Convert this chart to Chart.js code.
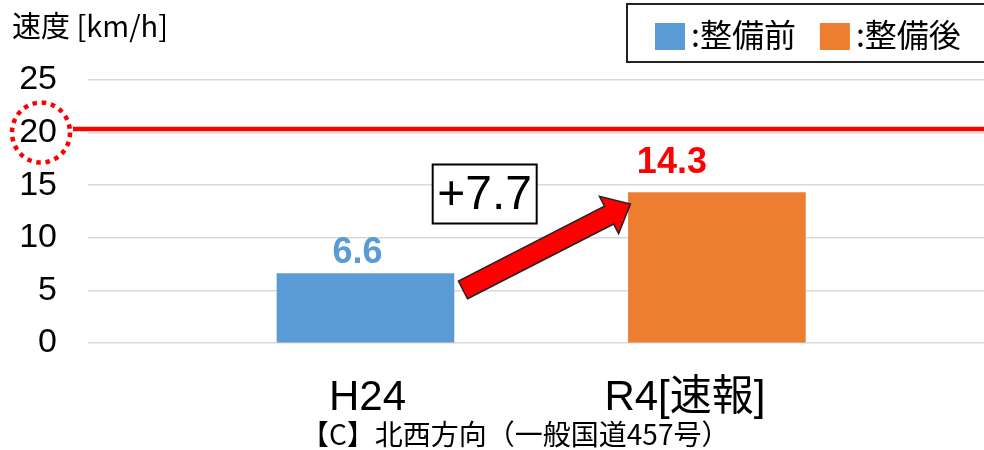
<!DOCTYPE html>
<html>
<head>
<meta charset="utf-8">
<script src="https://cdn.jsdelivr.net/npm/chart.js@4"></script>
<style>
html,body{margin:0;padding:0;background:#fff;}
#wrap{position:relative;width:984px;height:450px;}
</style>
</head>
<body>
<div id="wrap"><canvas id="c"></canvas></div>
<script>
// ---- data ----
const categories = ['H24', 'R4[速報]'];
const speeds = [6.6, 14.3];
const seriesNames = ['整備前', '整備後'];
const targetSpeed = 20;
const increaseLabel = '+7.7';
const yTitle = '速度 [km/h]';
const subtitle = '【C】北西方向（一般国道457号）';
const yMin = 0, yMax = 25, yStep = 5;

// ---- styles ----
const barColors = ['#5b9bd5', '#ed7d31'];
const labelColors = ['#5b9bd5', '#ff0000'];
const labelOffsets = [{dx: -8, dy: -11}, {dx: -45, dy: -20}];
const xLabelOffsets = [2, -32];
const LAT = '"Liberation Sans", Arial, "Noto Sans CJK JP", sans-serif';
const CJK = '"Noto Sans CJK JP", "Liberation Sans", sans-serif';

const overlay = {
  id: 'overlay',
  afterDatasetsDraw(chart) {
    const ctx = chart.ctx;
    const ca = chart.chartArea;
    const ys = chart.scales.y;
    const xs = chart.scales.x;
    const meta = chart.getDatasetMeta(0);
    ctx.save();

    // target line
    const ty = ys.getPixelForValue(targetSpeed) - 3.5;
    ctx.strokeStyle = '#ff0000';
    ctx.lineWidth = 4.5;
    ctx.beginPath();
    ctx.moveTo(ca.left - 15, ty);
    ctx.lineTo(chart.width, ty);
    ctx.stroke();

    // dotted circle around the 20 tick label
    const cy = ys.getPixelForValue(targetSpeed);
    ctx.lineWidth = 4.5;
    ctx.setLineDash([4.5, 4.8]);
    ctx.beginPath();
    ctx.ellipse(41, cy, 29, 30, 0, 0, Math.PI * 2);
    ctx.stroke();
    ctx.setLineDash([]);

    // value labels
    ctx.font = 'bold 36px ' + LAT;
    ctx.textAlign = 'center';
    ctx.textBaseline = 'alphabetic';
    meta.data.forEach((bar, i) => {
      ctx.fillStyle = labelColors[i];
      ctx.fillText(String(speeds[i]), bar.x + labelOffsets[i].dx, bar.y + labelOffsets[i].dy);
    });

    // arrow
    const b0 = meta.data[0], b1 = meta.data[1];
    const tail = {x: b0.x + b0.width / 2 + 9, y: ys.getPixelForValue(5.05)};
    const tip = {x: b1.x - b1.width / 2 + 2, y: ys.getPixelForValue(13.2)};
    const dx = tip.x - tail.x, dy = tip.y - tail.y;
    const len = Math.hypot(dx, dy);
    const ux = dx / len, uy = dy / len;
    const px = -uy, py = ux;
    const sw = 10, hw = 21, hl = 24;
    const bx = tip.x - ux * hl, by = tip.y - uy * hl;
    ctx.beginPath();
    ctx.moveTo(tail.x + px * sw, tail.y + py * sw);
    ctx.lineTo(bx + px * sw, by + py * sw);
    ctx.lineTo(bx + px * hw, by + py * hw);
    ctx.lineTo(tip.x, tip.y);
    ctx.lineTo(bx - px * hw, by - py * hw);
    ctx.lineTo(bx - px * sw, by - py * sw);
    ctx.lineTo(tail.x - px * sw, tail.y - py * sw);
    ctx.closePath();
    ctx.fillStyle = '#ff0000';
    ctx.fill();
    ctx.strokeStyle = '#222';
    ctx.lineWidth = 1.5;
    ctx.stroke();

    // increase box
    const mx = (tail.x + tip.x) / 2 - 62, my = (tail.y + tip.y) / 2 - 53;
    ctx.fillStyle = '#fff';
    ctx.fillRect(mx - 52, my - 29.5, 104, 59);
    ctx.strokeStyle = '#000';
    ctx.lineWidth = 2;
    ctx.strokeRect(mx - 52, my - 29.5, 104, 59);
    ctx.fillStyle = '#000';
    ctx.font = '48px ' + LAT;
    ctx.textAlign = 'center';
    ctx.textBaseline = 'middle';
    ctx.fillText(increaseLabel, mx, my + 2);

    // category labels
    ctx.font = '42px ' + LAT;
    ctx.textBaseline = 'alphabetic';
    categories.forEach((c, i) => {
      ctx.fillText(c, xs.getPixelForValue(i + 1) + xLabelOffsets[i], ca.bottom + 67);
    });

    // subtitle
    ctx.font = '28px ' + CJK;
    ctx.textBaseline = 'middle';
    ctx.fillText(subtitle, (xs.getPixelForValue(1) + xs.getPixelForValue(2)) / 2 - 26, ca.bottom + 91);

    // y-axis title
    ctx.textAlign = 'left';
    ctx.font = '29px ' + CJK;
    ctx.fillText(yTitle, 12, 26);

    // legend
    ctx.font = '32px ' + CJK;
    ctx.strokeStyle = '#222';
    ctx.lineWidth = 2;
    ctx.strokeRect(627, 4, chart.width - 627 + 3, 58);
    let lx = 655;
    seriesNames.forEach((n, i) => {
      ctx.fillStyle = barColors[i];
      ctx.fillRect(lx, 23, 30, 27);
      lx += 36;
      ctx.fillStyle = '#000';
      const t = ':' + n;
      ctx.fillText(t, lx, 35);
      lx += ctx.measureText(t).width + 24;
    });

    ctx.restore();
  }
};

new Chart(document.getElementById('c'), {
  type: 'bar',
  data: {
    datasets: [{
      data: categories.map((c, i) => ({x: i + 1, y: speeds[i]})),
      backgroundColor: barColors,
      borderWidth: 0,
      barThickness: 177
    }]
  },
  options: {
    responsive: true,
    maintainAspectRatio: false,
    animation: false,
    layout: {padding: {top: 80, bottom: 107, left: 0, right: 0}},
    plugins: {legend: {display: false}, tooltip: {enabled: false}},
    scales: {
      x: {type: 'linear', min: 0.2105, max: 2.76, offset: false, display: false},
      y: {
        min: yMin, max: yMax,
        ticks: {stepSize: yStep, color: '#000', padding: 31, font: {size: 34, family: LAT}},
        grid: {color: '#d9d9d9', lineWidth: 1.5, drawTicks: false},
        border: {display: false},
        afterFit(s) { s.width = 88; }
      }
    }
  },
  plugins: [overlay]
});
</script>
</body>
</html>
